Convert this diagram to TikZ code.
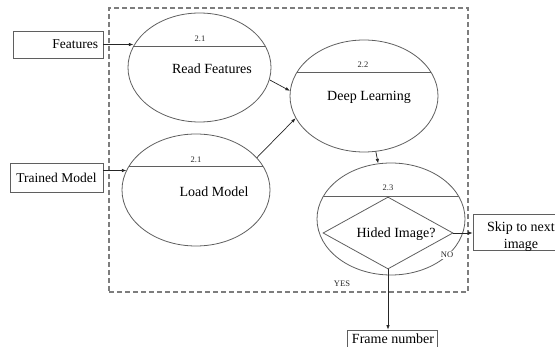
\documentclass[tikz,border=0pt]{standalone}
\usepackage{fontspec}
\setmainfont{Liberation Serif}
\usetikzlibrary{shapes.geometric,arrows.meta,calc}
\definecolor{linegray}{RGB}{95,95,95}
\definecolor{dashgray}{RGB}{125,125,125}
\begin{document}
\begin{tikzpicture}[x=1pt,y=-1pt,
  proc/.style={ellipse, draw=linegray, line width=0.8pt, inner sep=0pt, minimum width=148pt, minimum height=112pt},
  chordline/.style={path picture={\draw[linegray, line width=0.8pt] ($(path picture bounding box.center)+(-100pt,#1)$) -- ++(200pt,0pt);}},
  extbox/.style={draw=linegray, line width=0.8pt, inner sep=0pt},
  lbl/.style={font=\rmfamily\fontsize{14}{17}\selectfont, inner sep=0pt, align=center},
  num/.style={font=\rmfamily\fontsize{8.5}{9}\selectfont, inner sep=0pt, text=black!85},
  conn/.style={draw=black!85, line width=0.7pt, -{Latex[length=4.5pt,width=3.5pt]}},
  boundary/.style={draw=dashgray, line width=1.1pt, dash pattern=on 5pt off 3pt}
]
\useasboundingbox (0,0) rectangle (555,347);

% system boundary
\node[boundary, minimum width=359pt, minimum height=284pt, inner sep=0pt] (sys) at (288.5,150) {};

% processes
\node[proc, minimum width=143pt, minimum height=109pt, chordline=21.5pt] (e1) at (199.5,67.5) {};
\node[proc, chordline=24pt] (e2) at (196,190) {};
\node[proc, chordline=24pt] (e3) at (364,96) {};
\node[proc, chordline=23pt] (e4) at (391,219) {};

\node[num] (n1) at (200,39) {2.1};
\node[num] (n2) at (196,160) {2.1};
\node[num] (n3) at (363,65) {2.2};
\node[num] (n4) at (388,188) {2.3};

\node[lbl] (t1) at (212,69) {Read Features};
\node[lbl] (t2) at (214,192) {Load Model};
\node[lbl] (t3) at (369,97) {Deep Learning};

% decision
\node[diamond, draw=linegray, line width=0.8pt, inner sep=0pt, aspect=1.8, minimum width=130pt, minimum height=72pt] (dia) at (388,233) {};
\node[lbl] (t4) at (396,234) {Hided Image?};

% external entities
\node[extbox, minimum width=90pt, minimum height=27pt, text width=80pt, align=right, font=\rmfamily\fontsize{13.5}{16}\selectfont] (feat) at (58,44.5) {Features};
\node[extbox, minimum width=93pt, minimum height=29pt, font=\rmfamily\fontsize{13.5}{16}\selectfont] (tm) at (56.5,177.5) {Trained Model};
\node[extbox, minimum width=96pt, minimum height=36pt] (skip) at (521,232) {};
\node[lbl] (skiptext) at (521,236.5) {Skip to next\\image};
\node[extbox, minimum width=90pt, minimum height=22pt] (frame) at (392,341) {};
\node[lbl] (frametext) at (393,339) {Frame number};

% labels
\node[num, fill=white, inner sep=1.5pt] (no) at (447,255) {NO};
\node[num] (yes) at (342,284) {YES};

% flows
\draw[conn] (feat.east) -- (feat.east -| e1.162);
\draw[conn] ([yshift=7pt]tm.east) -- ([yshift=7pt]tm.east -| e2.164);
\draw[conn] (e1.-10) -- (e3.176);
\draw[conn] (e2.28) -- (e3.198);
\draw[conn] (e3.-78) -- (e4.103);
\draw[conn] (dia.east) -- (dia.east -| skip.west);
\draw[conn] (dia.south) -- (dia.south |- frame.north);
\end{tikzpicture}
\end{document}
